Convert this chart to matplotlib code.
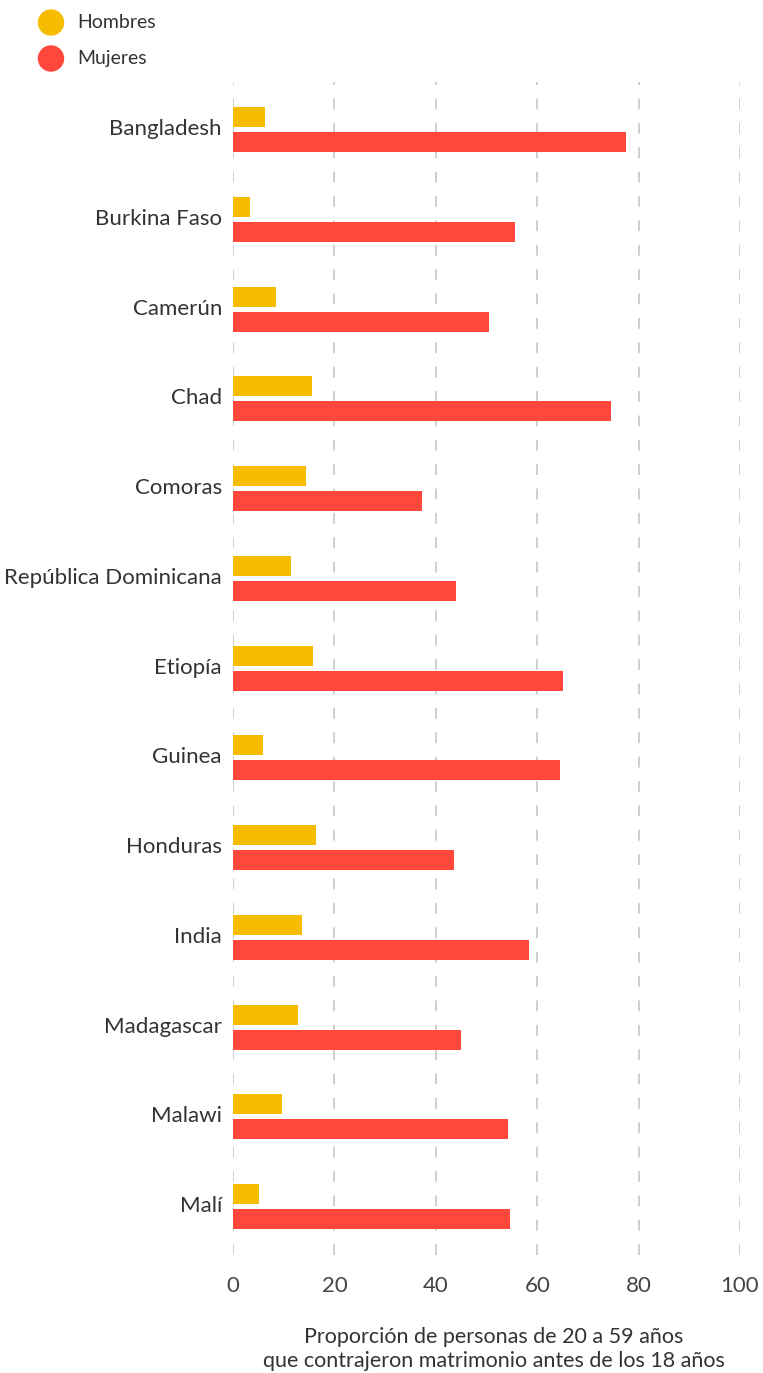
import matplotlib
matplotlib.use("Agg")
import matplotlib.pyplot as plt
import matplotlib.transforms as mtransforms
import numpy as np

countries = ["Bangladesh", "Burkina Faso", "Camerún", "Chad", "Comoras",
             "República Dominicana", "Etiopía", "Guinea", "Honduras", "India",
             "Madagascar", "Malawi", "Malí"]
hombres = [6.3, 3.3, 8.4, 15.5, 14.3, 11.4, 15.7, 5.9, 16.3, 13.7, 12.8, 9.6, 5.1]
mujeres = [77.5, 55.6, 50.5, 74.5, 37.2, 43.9, 65.1, 64.5, 43.6, 58.4, 44.9, 54.2, 54.6]
xticks = [0, 20, 40, 60, 80, 100]
series_names = ["Hombres", "Mujeres"]
xlabel_lines = ["Proporción de personas de 20 a 59 años",
                "que contrajeron matrimonio antes de los 18 años"]

YELLOW = "#F6BC00"
RED = "#FF473B"
TXT = "#333333"

plt.rcParams['font.family'] = ['Lato', 'DejaVu Sans']

W, H = 763, 1373
fig = plt.figure(figsize=(W / 100, H / 100), dpi=100)
ax = fig.add_axes([233 / W, 1 - 1255 / H, (740 - 233) / W, (1255 - 82) / H])

y = np.arange(len(countries))
bh = 0.223
off = 0.139
ax.barh(y - off, hombres, height=bh, color=YELLOW, zorder=3)
ax.barh(y + off, mujeres, height=bh, color=RED, zorder=3)

ax.set_xlim(0, 100)
ax.set_ylim(12.54, -0.53)
ax.set_xticks(xticks)
ax.set_xticklabels([str(t) for t in xticks], fontsize=16, color="#444444")
ax.set_yticks(y)
ax.set_yticklabels(countries, fontsize=16, color=TXT)
ax.tick_params(axis='both', length=0)
ax.tick_params(axis='y', pad=8)
ax.tick_params(axis='x', pad=15)
shift = mtransforms.ScaledTranslation(0, 2.5 / 100, fig.dpi_scale_trans)
for lab in ax.get_yticklabels():
    lab.set_transform(lab.get_transform() + shift)
for s in ax.spines.values():
    s.set_visible(False)
ax.grid(axis='x', color="#cccccc", linestyle=(0, (6, 7.5)), linewidth=1.3, zorder=0)
ax.grid(axis='y', visible=False)

# legend
for i, (name, col) in enumerate(zip(series_names, [YELLOW, RED])):
    cy = 1 - (22.5 + 36 * i) / H
    fig.patches.append(matplotlib.patches.Ellipse((51 / W, cy), 25 / W, 25 / H,
                                                  transform=fig.transFigure, color=col))
    fig.text(77 / W, cy, name, fontsize=14, color=TXT, va='center', ha='left')

fig.text(494 / W, 1 - 1337 / H, xlabel_lines[0], fontsize=15.5, color=TXT, ha='center', va='center')
fig.text(494 / W, 1 - 1361 / H, xlabel_lines[1], fontsize=15.5, color=TXT, ha='center', va='center')

fig.savefig("out.png", dpi=100)
